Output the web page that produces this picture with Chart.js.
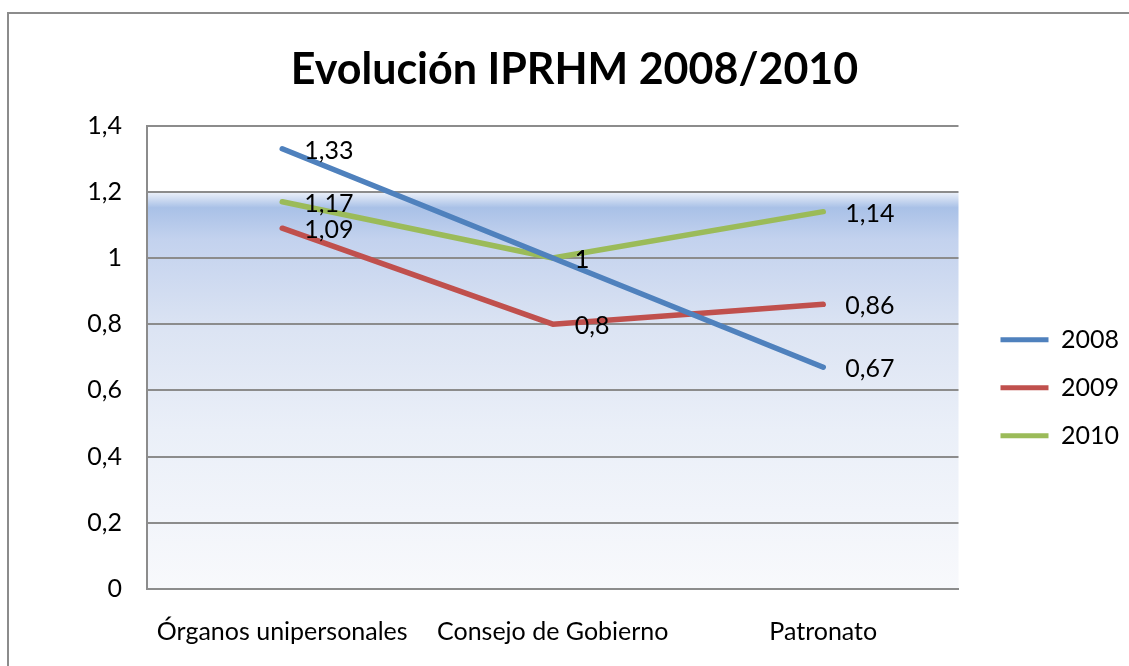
<!DOCTYPE html>
<html>
<head>
<meta charset="utf-8">
<script src="https://cdn.jsdelivr.net/npm/chart.js@4/dist/chart.umd.min.js"></script>
<style>
  body { margin: 0; background: #fff; overflow: hidden; }
  #wrap { position: relative; width: 1129px; height: 666px; }
  #frame { position: absolute; left: 7px; top: 12px; width: 1200px; height: 700px;
           border-top: 2px solid #8c8c8c; border-left: 2px solid #8c8c8c; }
  canvas { position: absolute; left: 0; top: 0; }
</style>
</head>
<body>
<div id="wrap">
  <div id="frame"></div>
  <canvas id="chart" width="1129" height="666"></canvas>
</div>
<script>
// datos del gráfico
const categories = ['Órganos unipersonales', 'Consejo de Gobierno', 'Patronato'];
const years = ['2008', '2009', '2010'];
const values2008 = [1.33, 1, 0.67];
const values2009 = [1.09, 0.8, 0.86];
const values2010 = [1.17, 1, 1.14];
const yTicks = [0, 0.2, 0.4, 0.6, 0.8, 1, 1.2, 1.4];
const colors = ['#4f81bd', '#c0504d', '#9bbb59'];

const FONT = 'Lato, Calibri, sans-serif';
const SIZE = 25;

// formato con coma decimal
function fmt(v) {
    return String(Math.round(v * 100) / 100).replace('.', ',');
}

// fondo degradado del área de trazado (desde 1,2 hacia abajo)
const plotBackground = {
    id: 'plotBackground',
    beforeDraw(chart) {
        const { ctx, chartArea: a, scales } = chart;
        const yStart = scales.y.getPixelForValue(1.2);
        ctx.save();
        ctx.fillStyle = '#ffffff';
        ctx.fillRect(a.left, a.top, a.right - a.left, a.bottom - a.top);
        const g = ctx.createLinearGradient(0, yStart, 0, a.bottom);
        g.addColorStop(0, '#eef2fa');
        g.addColorStop(0.04, '#a9c1e7');
        g.addColorStop(0.12, '#c3d2ee');
        g.addColorStop(0.35, '#dce4f3');
        g.addColorStop(0.6, '#eaeff8');
        g.addColorStop(1, '#f8f9fc');
        ctx.fillStyle = g;
        ctx.fillRect(a.left, yStart, a.right - a.left, a.bottom - yStart);
        ctx.restore();
    }
};

// etiquetas de datos a la derecha de cada punto
const dataLabels = {
    id: 'dataLabels',
    afterDatasetsDraw(chart) {
        const ctx = chart.ctx;
        ctx.save();
        ctx.font = SIZE + 'px ' + FONT;
        ctx.fillStyle = '#000';
        ctx.textAlign = 'left';
        ctx.textBaseline = 'middle';
        chart.data.datasets.forEach((ds, i) => {
            chart.getDatasetMeta(i).data.forEach((pt, j) => {
                ctx.fillText(fmt(ds.data[j]), pt.x + 22, pt.y + 2);
            });
        });
        ctx.restore();
    }
};

const seriesValues = [values2008, values2009, values2010];

new Chart(document.getElementById('chart'), {
    type: 'line',
    data: {
        labels: categories,
        datasets: years.map((y, i) => ({
            label: y,
            data: seriesValues[i],
            borderColor: colors[i],
            backgroundColor: colors[i],
            borderWidth: 5.5,
            borderCapStyle: 'round',
            borderJoinStyle: 'round',
            pointRadius: 0,
            tension: 0
        }))
    },
    options: {
        responsive: false,
        devicePixelRatio: 1,
        animation: false,
        layout: { padding: { left: 20, right: 0, top: 18, bottom: -9 } },
        plugins: {
            title: {
                display: true,
                text: 'Evolución IPRHM 2008/2010',
                color: '#000',
                font: { family: FONT, size: 43, weight: 'bold' },
                padding: { top: 26, bottom: 30 }
            },
            legend: {
                position: 'right',
                title: { display: true, text: '', padding: { top: 68, bottom: 0 } },
                labels: {
                    color: '#000',
                    font: { family: FONT, size: SIZE },
                    boxWidth: 48,
                    boxHeight: 5,
                    padding: 23,
                    generateLabels(chart) {
                        return Chart.defaults.plugins.legend.labels.generateLabels(chart)
                            .map(l => ({ ...l, lineWidth: 0 }));
                    }
                }
            },
            tooltip: { enabled: false }
        },
        scales: {
            x: {
                offset: true,
                grid: { display: false, drawTicks: false },
                border: { display: true, color: '#8c8c8c', width: 2 },
                ticks: { color: '#000', font: { family: FONT, size: SIZE }, padding: 28, maxRotation: 0 }
            },
            y: {
                min: 0,
                max: 1.4,
                afterBuildTicks(axis) {
                    axis.ticks = yTicks.map(v => ({ value: v }));
                },
                afterFit(axis) { axis.width = 127; },
                grid: { color: '#8c8c8c', lineWidth: 2, drawTicks: false },
                border: { display: true, color: '#8c8c8c', width: 2 },
                ticks: {
                    color: '#000',
                    font: { family: FONT, size: SIZE },
                    padding: 25,
                    callback: v => fmt(v)
                }
            },
            // eje vacío: solo deja hueco entre el área y la leyenda
            gap: {
                position: 'right',
                display: true,
                afterFit(axis) { axis.width = 19; },
                grid: { display: false, drawTicks: false },
                border: { display: false },
                ticks: { display: false }
            }
        }
    },
    plugins: [plotBackground, dataLabels]
});
</script>
</body>
</html>
